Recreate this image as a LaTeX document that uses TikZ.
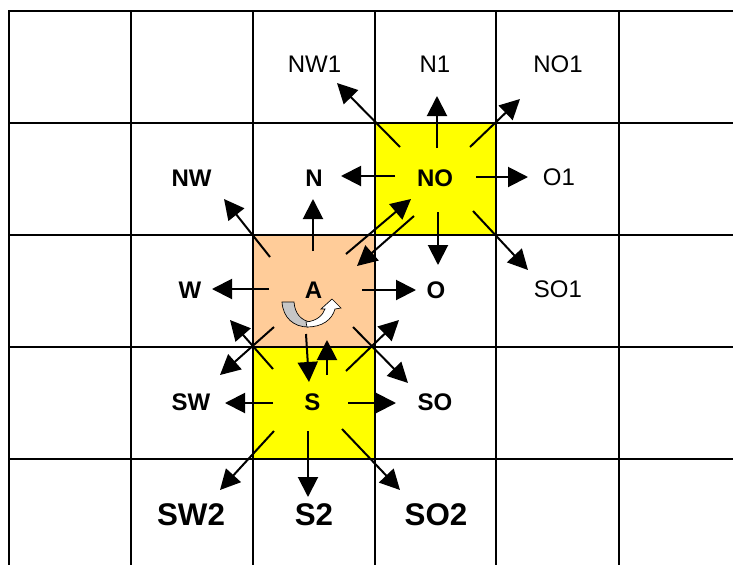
\documentclass[tikz,border=0pt]{standalone}
\usepackage{fontspec}
\setmainfont{Liberation Sans}
\usetikzlibrary{arrows.meta}
\definecolor{peach}{HTML}{FFCC99}
\definecolor{yel}{HTML}{FFFF00}
\tikzset{
  gridline/.style={line width=2.2pt, black},
  thingrid/.style={line width=1.5pt, black},
  arr/.style={line width=1.5pt, -{Triangle[length=15pt,width=15pt]}},
  lab/.style={inner sep=0pt, anchor=center, font=\fontsize{18}{18}\selectfont},
  blab/.style={lab, font=\fontsize{18}{18}\selectfont\bfseries},
  biglab/.style={lab, font=\fontsize{23.5}{23.5}\selectfont\bfseries},
}
\begin{document}
\begin{tikzpicture}[x=0.75pt,y=-0.75pt]
\useasboundingbox (0,0) rectangle (733,565);
% coloured cells
\fill[peach] (253,235) rectangle (375,347);
\fill[yel] (375,123) rectangle (496,235);
\fill[yel] (253,347) rectangle (375,459);
% grid
\foreach \x in {253,375,496} \draw[thingrid] (\x,11) -- (\x,565);
\foreach \y in {11,123,235,347,459} \draw[gridline] (8,\y) -- (733,\y);
\foreach \x in {9,131,619} \draw[gridline] (\x,10) -- (\x,565);
% labels
\node[lab]  (NW1) at (314.5,64.5) {NW1};
\node[lab]  (N1)  at (435,64.5) {N1};
\node[lab]  (NO1) at (558,64.5) {NO1};
\node[blab] (NW)  at (191.5,178) {NW};
\node[blab] (N)   at (314,178) {N};
\node[blab] (NO)  at (435,178) {NO};
\node[lab]  (O1)  at (559,177.5) {O1};
\node[blab] (W)   at (190,290) {W};
\node[blab] (A)   at (313.5,290) {A};
\node[blab] (O)   at (436,290) {O};
\node[lab]  (SO1) at (558,289) {SO1};
\node[blab] (SW)  at (191,402) {SW};
\node[blab] (S)   at (312.5,402) {S};
\node[blab] (SO)  at (435,402) {SO};
\node[biglab] (SW2) at (191,515) {SW2};
\node[biglab] (S2)  at (314,515) {S2};
\node[biglab] (SO2) at (436,515) {SO2};
% arrow end points
\coordinate (nonw0) at (400,147); \coordinate (nonw1) at (337,83);
\coordinate (non0) at (437,148);  \coordinate (non1) at (437,96);
\coordinate (none0) at (470,147); \coordinate (none1) at (520,99);
\coordinate (now0) at (395,176);  \coordinate (now1) at (341,176);
\coordinate (noe0) at (476,177);  \coordinate (noe1) at (528,177);
\coordinate (nose0) at (473,211); \coordinate (nose1) at (528,270);
\coordinate (nos0) at (438,212);  \coordinate (nos1) at (438,265);
\coordinate (nosw0) at (414,216); \coordinate (nosw1) at (357,266);
\coordinate (anw0) at (270,257);  \coordinate (anw1) at (224,199);
\coordinate (an0) at (313,251);   \coordinate (an1) at (313,199);
\coordinate (ane0) at (346,254);  \coordinate (ane1) at (411,199);
\coordinate (aw0) at (269,289);   \coordinate (aw1) at (212,289);
\coordinate (ae0) at (362,290);   \coordinate (ae1) at (416,290);
\coordinate (asw0) at (274,327);  \coordinate (asw1) at (220,375);
\coordinate (ase0) at (353,327);  \coordinate (ase1) at (408,383);
\coordinate (as0) at (306,334);   \coordinate (as1) at (309,382);
\coordinate (sn0) at (327,375);   \coordinate (sn1) at (327,340);
\coordinate (snw0) at (273,369);  \coordinate (snw1) at (230,320);
\coordinate (sne0) at (346,371);  \coordinate (sne1) at (399,320);
\coordinate (sw0) at (273,403);   \coordinate (sw1) at (225,403);
\coordinate (se0) at (348,403);   \coordinate (se1) at (396,403);
\coordinate (ssw0) at (274,431);  \coordinate (ssw1) at (220,490);
\coordinate (ss0) at (308,431);   \coordinate (ss1) at (308,497);
\coordinate (sse0) at (342,429);  \coordinate (sse1) at (400,490);
% arrows
\foreach \a in {nonw,non,none,now,noe,nose,nos,nosw,anw,an,ane,aw,ae,asw,ase,as,sn,snw,sne,sw,se,ssw,ss,sse}
  \draw[arr] (\a0) -- (\a1);
% rotation symbol
\draw[fill=gray!45, line width=0.5pt] (282,302) -- (294,302)
  .. controls (295,314) and (301,320) .. (310,322) -- (308,327)
  .. controls (294,327) and (283,318) .. (282,302) -- cycle;
\draw[fill=white, line width=0.5pt] (306,322)
  .. controls (317,321) and (323,315) .. (325,309) -- (321,309)
  -- (332,299) -- (341,308) -- (335,309)
  .. controls (332,320) and (322,327) .. (307,327) -- cycle;
\end{tikzpicture}
\end{document}
